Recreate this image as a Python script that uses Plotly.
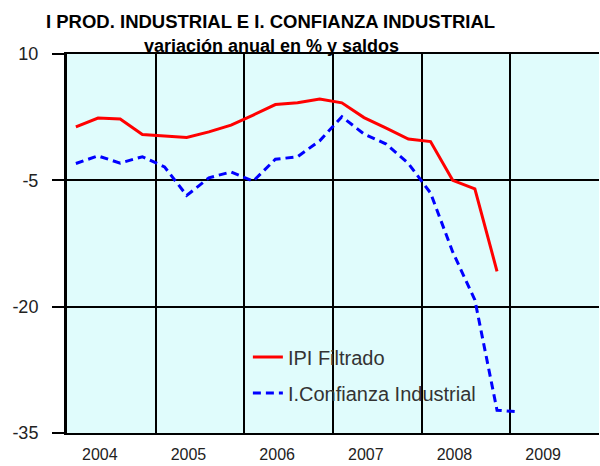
import plotly.graph_objects as go

# ---- data (quarterly) ----
quarters = ["2004T1", "2004T2", "2004T3", "2004T4",
            "2005T1", "2005T2", "2005T3", "2005T4",
            "2006T1", "2006T2", "2006T3", "2006T4",
            "2007T1", "2007T2", "2007T3", "2007T4",
            "2008T1", "2008T2", "2008T3", "2008T4",
            "2009T1"]
ipi_filtrado = [1.35, 2.4, 2.28, 0.45, 0.25, 0.1, 0.75, 1.55,
                2.75, 4.0, 4.2, 4.66, 4.2, 2.45, 1.2, -0.1,
                -0.4, -5.0, -6.0, -15.8, None]
confianza = [-3.0, -2.1, -2.95, -2.2, -3.4, -6.8, -4.7, -4.0,
             -5.1, -2.5, -2.2, -0.3, 2.55, 0.5, -0.7, -3.0,
             -6.5, -13.5, -19.2, -32.3, -32.5]
years = [2004, 2005, 2006, 2007, 2008, 2009]
y_ticks = [10, -5, -20, -35]
y_tick_text = ["10", "-5", "-20", "-35"]


def qpos(label):
    y = int(label[:4])
    q = int(label[-1])
    return y + (q - 1) * 0.25 + 0.1


xs = [qpos(q) for q in quarters]

FONT = "Liberation Sans, Arial, sans-serif"

fig = go.Figure()
fig.add_trace(go.Scatter(
    x=xs, y=ipi_filtrado, mode="lines", name="IPI Filtrado",
    line=dict(color="#ff0000", width=3), legendgroup="a"))
fig.add_trace(go.Scatter(
    x=xs, y=confianza, mode="lines", name="I.Confianza Industrial",
    line=dict(color="#0000ff", width=3, dash="8px,5px"), legendgroup="b"))

fig.update_layout(
    width=600, height=466,
    margin=dict(l=67, r=1, t=54, b=33, autoexpand=False),
    paper_bgcolor="white",
    plot_bgcolor="#E0FCFC",
    font=dict(family=FONT, size=18, color="#222"),
    showlegend=True,
    legend=dict(x=0.34, y=0.252, xanchor="left", yanchor="top",
                bgcolor="rgba(0,0,0,0)", font=dict(size=20, color="#333"),
                tracegroupgap=7, itemwidth=30),
    annotations=[
        dict(text="<b>I PROD. INDUSTRIAL E I. CONFIANZA INDUSTRIAL</b>",
             xref="paper", yref="paper", x=(270 - 67) / 532, y=1.087,
             xanchor="center", yanchor="middle", showarrow=False,
             font=dict(size=18.5, color="black", family=FONT)),
        dict(text="<b>variación anual en % y saldos</b>",
             xref="paper", yref="paper", x=(271 - 67) / 532, y=1.02,
             xanchor="center", yanchor="middle", showarrow=False,
             font=dict(size=18, color="black", family=FONT)),
    ],
)

fig.update_xaxes(
    range=[2004, 2010], automargin=False,
    tickmode="array",
    tickvals=[y + 0.37 for y in years],
    ticktext=[str(y) for y in years],
    tickfont=dict(size=16),
    showgrid=False, zeroline=False,
    ticks="", ticklabelstandoff=6,
    showline=True, linecolor="black", linewidth=2, mirror=True,
    minor=dict(tickmode="array", tickvals=years[1:], showgrid=True,
               gridcolor="black", gridwidth=2, ticks=""),
)
fig.update_yaxes(
    range=[-35, 10], automargin=False,
    tickmode="array", tickvals=y_ticks, ticktext=y_tick_text,
    showgrid=True, gridcolor="black", gridwidth=2, zeroline=False,
    ticks="outside", ticklen=12, tickcolor="black", tickwidth=2,
    ticklabelstandoff=10,
    showline=True, linecolor="black", linewidth=3, mirror=False,
)

fig.write_html("out.html",
               config={"displayModeBar": False},
               post_script="document.body.style.margin='0px';"
                           "document.body.style.overflow='hidden';")
